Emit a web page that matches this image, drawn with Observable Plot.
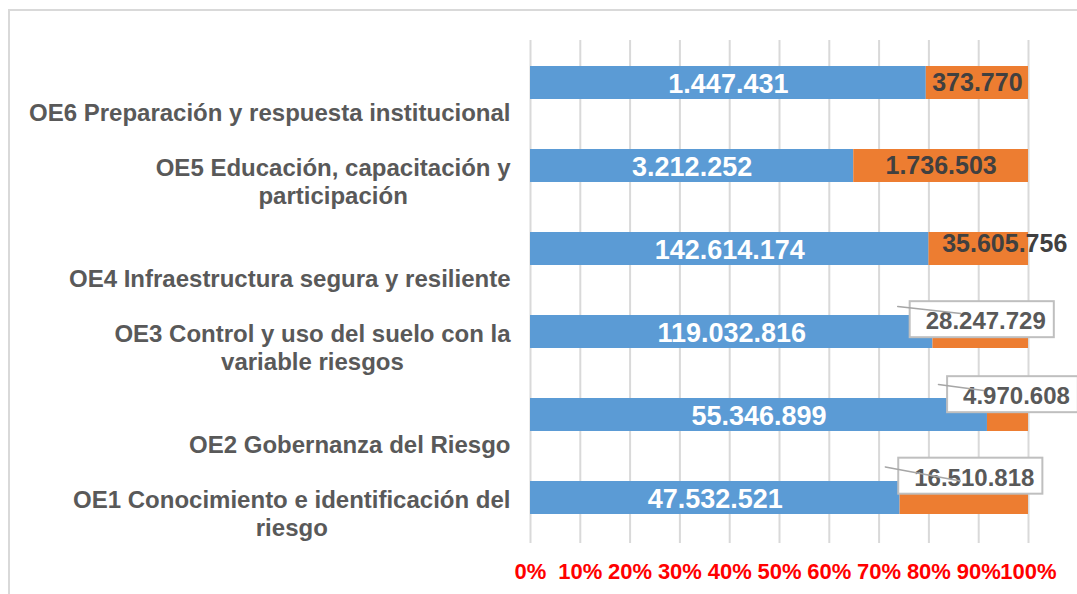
<!DOCTYPE html>
<html>
<head>
<meta charset="utf-8">
<script src="https://cdn.jsdelivr.net/npm/d3@7"></script>
<script src="https://cdn.jsdelivr.net/npm/@observablehq/plot@0.6"></script>
<style>
  html, body { margin: 0; padding: 0; background: #fff; overflow: hidden; width: 1077px; height: 594px; }
  #frame { position: absolute; left: 8px; top: 9px; width: 1200px; height: 700px; border: 2px solid #D9D9D9; }
  #chart { position: absolute; left: 0; top: 0; }
</style>
</head>
<body>
<div id="frame"></div>
<div id="chart"></div>
<script>
// ---- data ----
const categories = [
  "OE6 Preparación y respuesta institucional",
  "OE5 Educación, capacitación y\nparticipación",
  "OE4 Infraestructura segura y resiliente",
  "OE3 Control y uso del suelo con la\nvariable riesgos",
  "OE2 Gobernanza del Riesgo",
  "OE1 Conocimiento e identificación del\nriesgo"
];
const seriesNames = ["Serie 1", "Serie 2"];
const serie1 = [1447431, 3212252, 142614174, 119032816, 55346899, 47532521];
const serie2 = [373770, 1736503, 35605756, 28247729, 4970608, 16510818];
const xTicks = [0, 0.1, 0.2, 0.3, 0.4, 0.5, 0.6, 0.7, 0.8, 0.9, 1];

// ---- derived tables ----
const rows = categories.flatMap((c, i) => [
  {cat: c, series: seriesNames[0], value: serie1[i]},
  {cat: c, series: seriesNames[1], value: serie2[i]}
]);
const loc = d3.formatLocale({decimal: ",", thousands: ".", grouping: [3], currency: ["$", ""]});
const fmt = loc.format(",d");
const share1 = serie1.map((v, i) => v / (v + serie2[i]));

// label placement styles (offsets in px)
const inlineOrange = [0, 1];              // centred inside the orange segment
const shiftedOrange = {i: 2, dx: 26, dy: -5};
const callouts = [
  {i: 3, dx: 5,   dy: -10.5, ldx: -83, ldy: -25.5, len: 63.4, rot: 96.3},
  {i: 4, dx: 8.5, dy: -18.5, ldx: -69.5, ldy: -30.5, len: 45.4, rot: 97.6},
  {i: 5, dx: 10,  dy: -20,   ldx: -79, ldy: -31,   len: 76.3, rot: 100.6}
];

const font = "Liberation Sans, Arial, Helvetica, sans-serif";
const stack = (o) => Plot.stackX({offset: "normalize", x: "value", y: "cat", z: "series", ...o});
const lineShape = {draw(ctx, l) { ctx.moveTo(0, 0); ctx.lineTo(0, -l); }};

const marks = [
  Plot.ruleX(xTicks, {x: d => d, stroke: "#D9D9D9", strokeWidth: 2, insetBottom: -3}),
  Plot.barX(rows, stack({fill: "series"})),
  // blue labels
  Plot.text(rows, stack({
    text: d => d.series === seriesNames[0] ? fmt(d.value) : "",
    fill: "#FFFFFF", fontSize: 27, fontWeight: "bold", dy: 1
  })),
  // orange labels, centred
  Plot.text(rows, stack({
    text: d => d.series === seriesNames[1] && inlineOrange.some(i => categories[i] === d.cat) ? fmt(d.value) : "",
    fill: "#404040", fontSize: 25, fontWeight: "bold"
  })),
  // orange label, shifted
  Plot.text(rows, stack({
    text: d => d.series === seriesNames[1] && d.cat === categories[shiftedOrange.i] ? fmt(d.value) : "",
    fill: "#404040", fontSize: 25, fontWeight: "bold", dx: shiftedOrange.dx, dy: shiftedOrange.dy
  })),
  // category labels
  Plot.text(categories, {
    y: d => d, frameAnchor: "left", dx: -20, dy: 38,
    textAnchor: "end", lineAnchor: "bottom", lineHeight: 1.15,
    fill: "#595959", fontSize: 24, fontWeight: "bold", text: d => d
  }),
  // x tick labels
  Plot.text(xTicks, {
    x: d => d, frameAnchor: "bottom", dy: 31, lineAnchor: "middle",
    text: d => `${Math.round(d * 100)}%`, fill: "#FF0000", fontSize: 22, fontWeight: "bold"
  })
];

for (const c of callouts) {
  const datum = [{cat: categories[c.i], mid: (1 + share1[c.i]) / 2, value: serie2[c.i]}];
  marks.push(Plot.text(datum, {
    x: "mid", y: "cat", text: d => fmt(d.value), dx: c.dx, dy: c.dy,
    fill: "#595959", fontSize: 24, fontWeight: "bold"
  }));
}
for (const c of callouts) {
  const datum = [{cat: categories[c.i], mid: (1 + share1[c.i]) / 2}];
  marks.push(Plot.vector(datum, {
    x: "mid", y: "cat", dx: c.ldx, dy: c.ldy, length: c.len, rotate: c.rot,
    anchor: "start", shape: lineShape, stroke: "#A6A6A6", strokeWidth: 1.5
  }));
}

const chart = Plot.plot({
  width: 1077,
  height: 594,
  marginLeft: 530,
  marginRight: 49,
  marginTop: 40,
  marginBottom: 54,
  style: {fontFamily: font, background: "transparent", overflow: "hidden"},
  x: {domain: [0, 1], axis: null},
  y: {domain: categories, paddingInner: 0.6, paddingOuter: 0.3, axis: null},
  color: {domain: seriesNames, range: ["#5B9BD5", "#ED7D31"]},
  marks
});
document.getElementById("chart").append(chart);

// post-process: centre multi-line category labels, box the callout labels
const calloutTexts = new Set(callouts.map(c => fmt(serie2[c.i])));
const ns = "http://www.w3.org/2000/svg";
chart.querySelectorAll("text").forEach(t => {
  const spans = t.querySelectorAll("tspan");
  if (spans.length > 1) {
    const W = Math.max(...Array.from(spans, s => s.getComputedTextLength()));
    t.setAttribute("text-anchor", "middle");
    spans.forEach(s => s.setAttribute("x", -W / 2));
  }
  if (spans.length === 0 && calloutTexts.has(t.textContent)) {
    const b = t.getBBox();
    const r = document.createElementNS(ns, "rect");
    r.setAttribute("x", b.x - 16);
    r.setAttribute("y", b.y - 6);
    r.setAttribute("width", b.width + 24);
    r.setAttribute("height", b.height + 9);
    r.setAttribute("fill", "#FFFFFF");
    r.setAttribute("stroke", "#BFBFBF");
    r.setAttribute("stroke-width", 2);
    const tr = t.getAttribute("transform");
    if (tr) r.setAttribute("transform", tr);
    t.parentNode.insertBefore(r, t);
  }
});
</script>
</body>
</html>
